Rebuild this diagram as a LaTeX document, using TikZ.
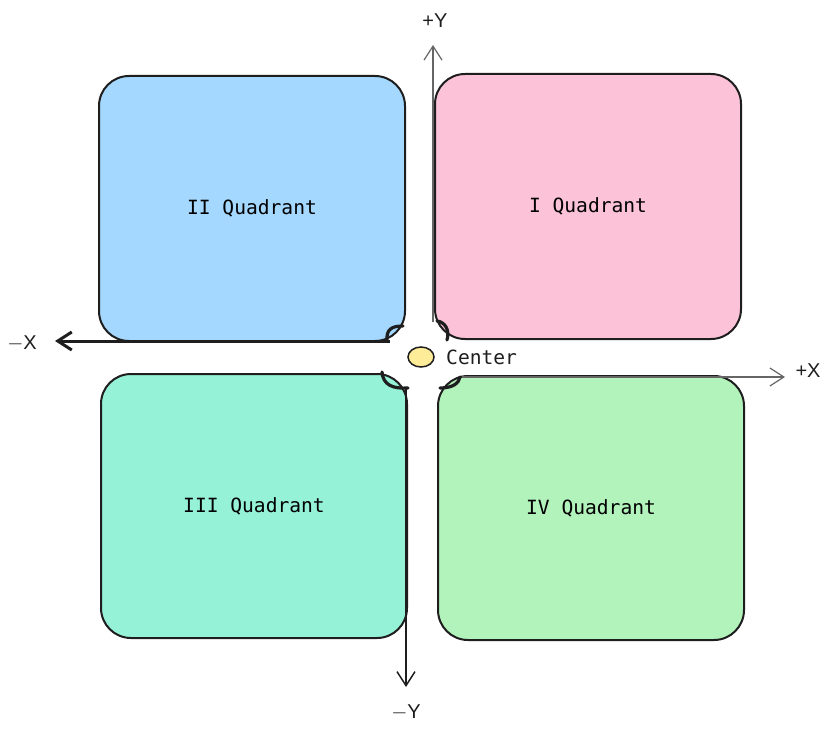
\documentclass[tikz,border=0pt]{standalone}
\usepackage{fontspec}
\setmainfont{Liberation Sans}
\setmonofont{DejaVu Sans Mono}
\usepackage{tikz}
\usetikzlibrary{shapes.geometric,arrows.meta,calc}

\definecolor{ink}{HTML}{1E1E1E}
\definecolor{qblue}{HTML}{A5D8FF}
\definecolor{qpink}{HTML}{FCC2D7}
\definecolor{qteal}{HTML}{96F2D7}
\definecolor{qgreen}{HTML}{B2F2BB}
\definecolor{qyellow}{HTML}{FFEC99}

\begin{document}
\begin{tikzpicture}[x=1pt, y=-1pt, >={Straight Barb[length=14pt,width=18pt]},
  quad/.style={draw=ink, line width=2pt, rounded corners=30pt, minimum width=306pt, minimum height=265pt, font=\ttfamily\fontsize{19.6}{24}\selectfont},
  axlabel/.style={font=\fontsize{20}{24}\selectfont, text=ink},
  bracket/.style={draw=ink, line width=3.2pt, line cap=round}]
  \useasboundingbox (0,0) rectangle (829,733);
  %quadrants
  \node[quad, fill=qblue](II) at (252,208.5) {II Quadrant};
  \node[quad, fill=qpink](I) at (588,206.5) {I Quadrant};
  \node[quad, fill=qteal, minimum height=264pt](III) at (254,506) {III Quadrant};
  \node[quad, fill=qgreen, minimum height=264pt](IV) at (591,508) {IV Quadrant};
  \node[ellipse, draw=ink, line width=1.5pt, fill=qyellow, minimum width=26pt, minimum height=20pt, inner sep=0pt](O) at (421,357) {};
  \node[anchor=west, inner sep=0pt, font=\ttfamily\fontsize{19.6}{24}\selectfont, text=ink](Ctext) at (446,357) {Center};
  %axis ends
  \coordinate (xneg) at (55,341);
  \coordinate (xpos) at (785,377);
  \coordinate (ypos) at (433,45);
  \coordinate (yneg) at (406,687);
  \node[axlabel](XN) at (22,343) {$-$X};
  \node[axlabel](XP) at (808,371) {+X};
  \node[axlabel](YP) at (435,21) {+Y};
  \node[axlabel](YN) at (406,712) {$-$Y};
  % Edges
  \draw[->, ink, line width=3pt] ($(O)+(-31,-16)$) -- (xneg);
  \draw[->, black!60, line width=1.2pt] ($(O)+(41,20)$) -- (xpos);
  \draw[->, black!60, line width=1.2pt] ($(O)+(12,-35)$) -- (ypos);
  \draw[->, ink, line width=1.5pt] ($(O)+(-15,31)$) -- (yneg);
  % brackets round the center
  \draw[bracket] (387,341) .. controls (386,329) and (392,326) .. (403,326);
  \draw[bracket] (437,321) .. controls (445,322) and (450,330) .. (447,340);
  \draw[bracket] (382,372) .. controls (383,385) and (393,389) .. (408,388);
  \draw[bracket] (440,388) .. controls (453,388) and (459,383) .. (460,377);
\end{tikzpicture}
\end{document}
